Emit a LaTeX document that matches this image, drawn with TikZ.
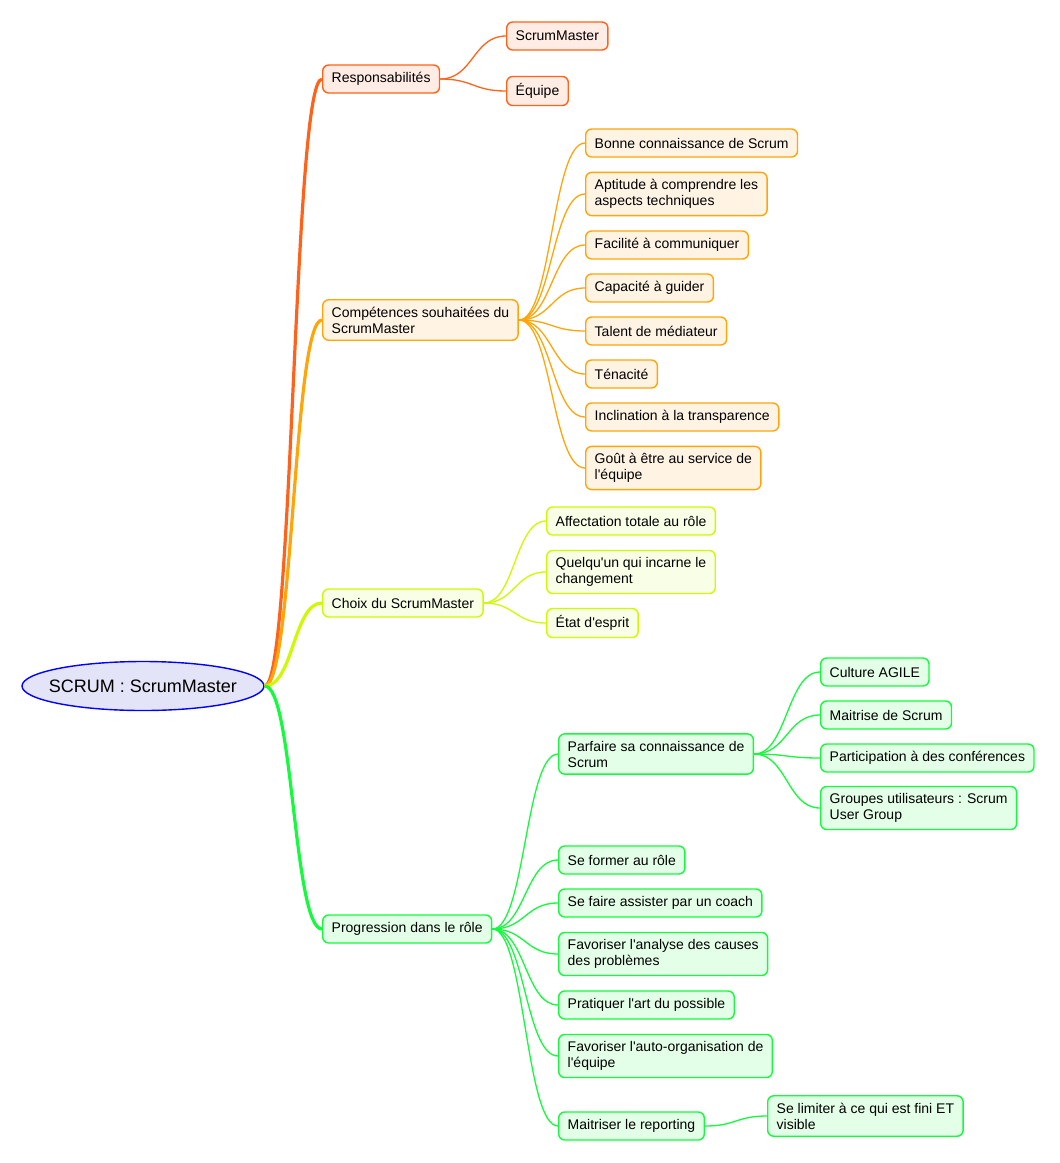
\documentclass[tikz,border=0pt]{standalone}
\usepackage{fontspec}
\setmainfont{Liberation Sans}
\usepackage{tikz}
\usetikzlibrary{shapes.geometric, calc}
\usepackage{xcolor}
\definecolor{rootblue}{RGB}{0, 0, 255}
\definecolor{rootfill}{RGB}{228, 228, 248}
\definecolor{resporange}{RGB}{255, 98, 24}
\definecolor{respfill}{RGB}{255, 236, 228}
\definecolor{compamber}{RGB}{255, 165, 10}
\definecolor{compfill}{RGB}{255, 244, 228}
\definecolor{choixlime}{RGB}{206, 250, 0}
\definecolor{choixfill}{RGB}{248, 255, 230}
\definecolor{proggreen}{RGB}{20, 250, 60}
\definecolor{progfill}{RGB}{228, 255, 232}
\newcommand{\apos}{\textquotesingle}

\begin{document}
\begin{tikzpicture}[
    x=1pt, y=-1pt,
    rootnode/.style={ellipse, draw=rootblue, fill=rootfill, line width=1.4pt, minimum width=242pt, minimum height=49pt, inner xsep=-8.5pt, inner ysep=0pt, font=\fontsize{18}{21}\selectfont},
    idea/.style={rectangle, rounded corners=6pt, line width=1.4pt, align=left, anchor=west, inner xsep=9pt, inner ysep=7pt, minimum height=28pt, font=\fontsize{14}{16}\selectfont},
    resp/.style={idea, draw=resporange, fill=respfill},
    comp/.style={idea, draw=compamber, fill=compfill},
    choix/.style={idea, draw=choixlime, fill=choixfill},
    prog/.style={idea, draw=proggreen, fill=progfill},
    link/.style={line width=1.3pt, to path={let \p1=(\tikztostart), \p2=(\tikztotarget), \p3=($(\p1)!0.5!(\p2)$) in .. controls (\x3,\y1) and (\x3,\y2) .. (\tikztotarget)}},
    trunk/.style={link, line width=3.2pt}
]
    \useasboundingbox (0,0) rectangle (1060,1163);

    \node[rootnode] (root) at (143,686) {SCRUM : ScrumMaster};

    % Responsabilites
    \node[resp] (resp) at (322,79) {Responsabilités};
    \node[resp] (rsm) at (506,36) {ScrumMaster};
    \node[resp] (requipe) at (506,91) {Équipe};

    % Competences
    \node[comp] (comp) at (322,320) {Compétences souhaitées du\\ScrumMaster};
    \node[comp] (cscrum) at (585,143) {Bonne connaissance de Scrum};
    \node[comp] (ctech) at (585,194) {Aptitude à comprendre les\\aspects techniques};
    \node[comp] (ccomm) at (585,245) {Facilité à communiquer};
    \node[comp] (cguide) at (585,288) {Capacité à guider};
    \node[comp] (cmed) at (585,331) {Talent de médiateur};
    \node[comp] (cten) at (585,374) {Ténacité};
    \node[comp] (ctransp) at (585,417) {Inclination à la transparence};
    \node[comp] (cserv) at (585,468) {Goût à être au service de\\l\apos équipe};

    % Choix
    \node[choix] (choix) at (322,603) {Choix du ScrumMaster};
    \node[choix] (haff) at (546,521) {Affectation totale au rôle};
    \node[choix] (hchg) at (546,572) {Quelqu\apos un qui incarne le\\changement};
    \node[choix] (hesp) at (546,623) {État d\apos esprit};

    % Progression
    \node[prog] (prog) at (322,929) {Progression dans le rôle};
    \node[prog] (pscrum) at (558,754) {Parfaire sa connaissance de\\Scrum};
    \node[prog] (pagile) at (820,672) {Culture AGILE};
    \node[prog] (pmaitr) at (820,715) {Maitrise de Scrum};
    \node[prog] (pconf) at (820,758) {Participation à des conférences};
    \node[prog] (pgroup) at (820,808) {Groupes utilisateurs : Scrum\\User Group};
    \node[prog] (pform) at (558,860) {Se former au rôle};
    \node[prog] (pcoach) at (558,903) {Se faire assister par un coach};
    \node[prog] (pcause) at (558,954) {Favoriser l\apos analyse des causes\\des problèmes};
    \node[prog] (pposs) at (558,1005) {Pratiquer l\apos art du possible};
    \node[prog] (pauto) at (558,1056) {Favoriser l\apos auto-organisation de\\l\apos équipe};
    \node[prog] (preport) at (558,1126) {Maitriser le reporting};
    \node[prog] (plimit) at (767,1116) {Se limiter à ce qui est fini ET\\visible};

    \draw[trunk, resporange] (root.east) to (resp.west);
    \draw[trunk, compamber] (root.east) to (comp.west);
    \draw[trunk, choixlime] (root.east) to (choix.west);
    \draw[trunk, proggreen] (root.east) to (prog.west);

    \draw[link, resporange] (resp.east) to (rsm.west);
    \draw[link, resporange] (resp.east) to (requipe.west);

    \draw[link, compamber] (comp.east) to (cscrum.west);
    \draw[link, compamber] (comp.east) to (ctech.west);
    \draw[link, compamber] (comp.east) to (ccomm.west);
    \draw[link, compamber] (comp.east) to (cguide.west);
    \draw[link, compamber] (comp.east) to (cmed.west);
    \draw[link, compamber] (comp.east) to (cten.west);
    \draw[link, compamber] (comp.east) to (ctransp.west);
    \draw[link, compamber] (comp.east) to (cserv.west);

    \draw[link, choixlime] (choix.east) to (haff.west);
    \draw[link, choixlime] (choix.east) to (hchg.west);
    \draw[link, choixlime] (choix.east) to (hesp.west);

    \draw[link, proggreen] (prog.east) to (pscrum.west);
    \draw[link, proggreen] (prog.east) to (pform.west);
    \draw[link, proggreen] (prog.east) to (pcoach.west);
    \draw[link, proggreen] (prog.east) to (pcause.west);
    \draw[link, proggreen] (prog.east) to (pposs.west);
    \draw[link, proggreen] (prog.east) to (pauto.west);
    \draw[link, proggreen] (prog.east) to (preport.west);
    \draw[link, proggreen] (pscrum.east) to (pagile.west);
    \draw[link, proggreen] (pscrum.east) to (pmaitr.west);
    \draw[link, proggreen] (pscrum.east) to (pconf.west);
    \draw[link, proggreen] (pscrum.east) to (pgroup.west);
    \draw[link, proggreen] (preport.east) to (plimit.west);
\end{tikzpicture}
\end{document}
